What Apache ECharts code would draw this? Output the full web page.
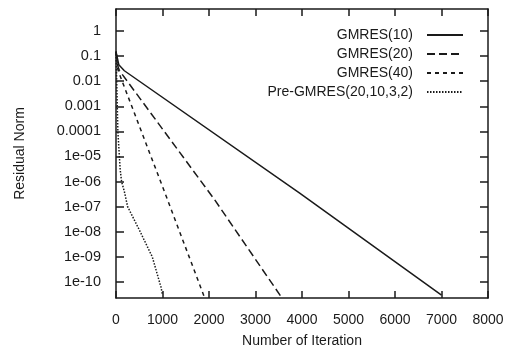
<!DOCTYPE html>
<html>
<head>
<meta charset="utf-8">
<script src="https://cdn.jsdelivr.net/npm/echarts@6/dist/echarts.min.js"></script>
<style>
html,body{margin:0;padding:0;background:#fff;}
#c{width:507px;height:349px;}
</style>
</head>
<body>
<div id="c"></div>
<script>
// ---- data (iteration, residual norm) ----
const seriesNames = ['GMRES(10)', 'GMRES(20)', 'GMRES(40)', 'Pre-GMRES(20,10,3,2)'];
const gmres10 = [[0, 0.15], [60, 0.045], [180, 0.026], [3950, 3.5e-7], [7000, 3e-11]];
const gmres20 = [[0, 0.15], [40, 0.04], [70, 0.027], [2120, 1.9e-7], [3550, 2.6e-11]];
const gmres40 = [[0, 0.15], [40, 0.03], [70, 0.02], [1080, 2.6e-7], [1900, 2.5e-11]];
const preGmres = [[0, 0.12], [15, 0.01], [40, 1e-4], [90, 3e-6], [120, 1e-6], [180, 4e-7], [250, 1e-7], [500, 1.2e-8], [780, 1e-9], [970, 6e-11], [1000, 3e-11]];
const yTickValues = [1, 0.1, 0.01, 0.001, 0.0001, 1e-5, 1e-6, 1e-7, 1e-8, 1e-9, 1e-10];
const yTickLabels = ['1', '0.1', '0.01', '0.001', '0.0001', '1e-05', '1e-06', '1e-07', '1e-08', '1e-09', '1e-10'];
const xTicks = [0, 1000, 2000, 3000, 4000, 5000, 6000, 7000, 8000];
const yMin = 2.3e-11, yMax = 7.5;

const font = 'Liberation Sans, Arial, Helvetica, sans-serif';
const ink = '#1a1a1a';
const chart = echarts.init(document.getElementById('c'), null, {renderer: 'canvas'});
const lineTypes = ['solid', [8, 4], [4, 4], [1.5, 1.5]];
const datas = [gmres10, gmres20, gmres40, preGmres];

function yLabel(v) {
  for (let i = 0; i < yTickValues.length; i++) {
    if (Math.abs(Math.log10(v) - Math.log10(yTickValues[i])) < 1e-6) return yTickLabels[i];
  }
  return '';
}

chart.setOption({
  animation: false,
  backgroundColor: '#fff',
  grid: {left: 116, right: 19, top: 9, bottom: 51, containLabel: false, outerBoundsMode: 'none'},
  legend: {
    orient: 'vertical', right: 38, top: 23, align: 'right',
    itemWidth: 36, itemHeight: 14, itemGap: 5,
    itemStyle: {color: 'transparent', borderColor: 'transparent', borderWidth: 0, opacity: 0},
    textStyle: {fontFamily: font, fontSize: 14, color: ink, padding: [0, 9, 0, 0]},
    data: seriesNames
  },
  xAxis: [{
    type: 'value', min: 0, max: 8000, interval: 1000, position: 'bottom',
    name: 'Number of Iteration', nameLocation: 'middle', nameGap: 36,
    nameTextStyle: {fontFamily: font, fontSize: 14, color: ink},
    axisLine: {show: true, lineStyle: {color: ink, width: 1.5}},
    axisTick: {show: true, inside: true, length: 7, lineStyle: {color: ink, width: 1.5}},
    axisLabel: {show: true, margin: 15, fontFamily: font, fontSize: 14, color: ink, customValues: xTicks, formatter: v => String(v)},
    splitLine: {show: false}
  }, {
    type: 'value', min: 0, max: 8000, interval: 1000, position: 'top',
    axisLine: {show: true, onZero: false, lineStyle: {color: ink, width: 1.5}},
    axisTick: {show: true, inside: true, length: 7, lineStyle: {color: ink, width: 1.5}},
    axisLabel: {show: false},
    splitLine: {show: false}
  }],
  yAxis: [{
    type: 'log', logBase: 10, min: yMin, max: yMax, position: 'left',
    name: 'Residual Norm', nameLocation: 'middle', nameGap: 89, nameRotate: 90,
    nameTextStyle: {fontFamily: font, fontSize: 14, color: ink},
    axisLine: {show: true, onZero: false, lineStyle: {color: ink, width: 1.5}},
    axisTick: {show: true, inside: true, length: 8, lineStyle: {color: ink, width: 1.5}, customValues: yTickValues},
    axisLabel: {show: true, margin: 15, fontFamily: font, fontSize: 14.5, color: ink, customValues: yTickValues, formatter: yLabel},
    splitLine: {show: false}
  }, {
    type: 'log', logBase: 10, min: yMin, max: yMax, position: 'right',
    axisLine: {show: true, onZero: false, lineStyle: {color: ink, width: 1.5}},
    axisTick: {show: true, inside: true, length: 8, lineStyle: {color: ink, width: 1.5}, customValues: yTickValues},
    axisLabel: {show: false},
    splitLine: {show: false}
  }],
  series: seriesNames.map((n, i) => ({
    name: n, type: 'line', xAxisIndex: 0, yAxisIndex: 0,
    data: datas[i], symbol: 'none', smooth: false,
    lineStyle: {color: ink, width: 1.5, type: lineTypes[i]},
    itemStyle: {color: ink}
  }))
});
</script>
</body>
</html>
